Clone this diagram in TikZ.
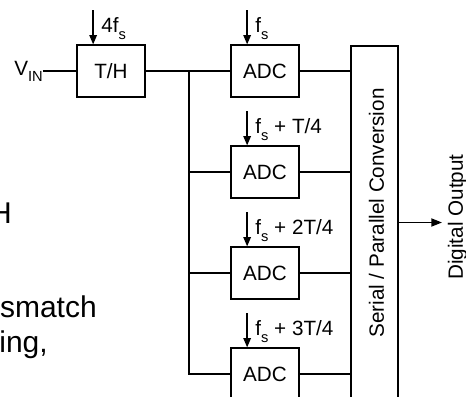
\documentclass[tikz,border=0pt]{standalone}
\usepackage{fontspec}
\setmainfont{Liberation Sans}
\usetikzlibrary{arrows.meta,positioning,calc}
\newcommand{\lowsub}[1]{\raisebox{-5pt}{\fontsize{11}{11}\selectfont #1}}
\tikzset{
  blk/.style={rectangle, draw=black, line width=1.3pt, minimum width=51pt,
              minimum height=38.5pt, inner sep=0pt, font=\fontsize{15.5}{18}\selectfont},
  serbox/.style={rectangle, draw=black, line width=1.3pt, minimum width=35.25pt,
                 minimum height=264.75pt, inner sep=0pt},
  wire/.style={line width=1.3pt},
  clk/.style={line width=1.3pt, -{Triangle[length=7pt,width=5.5pt]}},
  outar/.style={line width=1.3pt, -{Triangle[length=8pt,width=6pt]}},
  lbl/.style={inner sep=0pt, font=\fontsize{15.5}{18}\selectfont},
  vlbl/.style={inner sep=0pt, rotate=90, font=\fontsize{15.5}{18}\selectfont},
  slide/.style={inner sep=0pt, anchor=base east, font=\fontsize{22.5}{27}\selectfont},
}

\begin{document}
\begin{tikzpicture}[x=0.75pt,y=-0.75pt]
\useasboundingbox (0,0) rectangle (466,396);
\clip (0,0) rectangle (466,396);

% ===================== slide text cut at the left =====================
\node[slide] (t1) at (12,223) {H};
\node[slide] (t2) at (97,317) {smatch};
\node[slide] (t3) at (48,352) {ing,};

% ===================== input and T/H =====================
\node[blk] (th) at (111,71) {T/H};
\coordinate (vin) at (43,71);
\node[lbl, anchor=base east] (vinl) at (43,75) {V\lowsub{IN}};
\draw[wire] (vin) -- (th.west);

% ===================== ADC bank =====================
\foreach \i/\y in {1/71,2/172,3/273,4/374}
  \node[blk] (a\i) at (265,\y) {ADC};

\node[serbox] (ser) at (374.5,222.5) {};
\node[vlbl] (serl) at (376.5,213) {Serial / Parallel Conversion};

% bus from the T/H to each ADC
\coordinate (bus) at (189,71);
\draw[wire] (th.east) -- (a1.west);
\draw[wire] (bus) |- (a4.west);
\draw[wire] (bus |- a2.west) -- (a2.west);
\draw[wire] (bus |- a3.west) -- (a3.west);

% ADC outputs
\foreach \i in {1,...,4}
  \draw[wire] (a\i.east) -- (ser.west |- a\i.east);

% clocks
\foreach \n/\lab in {th/{4f\lowsub{s}}, a1/{f\lowsub{s}}, a2/{f\lowsub{s} + T/4},
                     a3/{f\lowsub{s} + 2T/4}, a4/{f\lowsub{s} + 3T/4}} {
  \coordinate (\n clk) at ($(\n.north west)+(17,-34)$);
  \draw[clk] (\n clk) -- (\n clk |- \n.north);
  \node[lbl, anchor=base west] (\n lab) at ($(\n.north west)+(25,-12)$) {\lab};
}

% ===================== output =====================
\coordinate (dout) at (442,222.5);
\draw[outar] (ser.east) -- (dout);
\node[vlbl] (doutl) at (457.5,217) {Digital Output};

\end{tikzpicture}
\end{document}
